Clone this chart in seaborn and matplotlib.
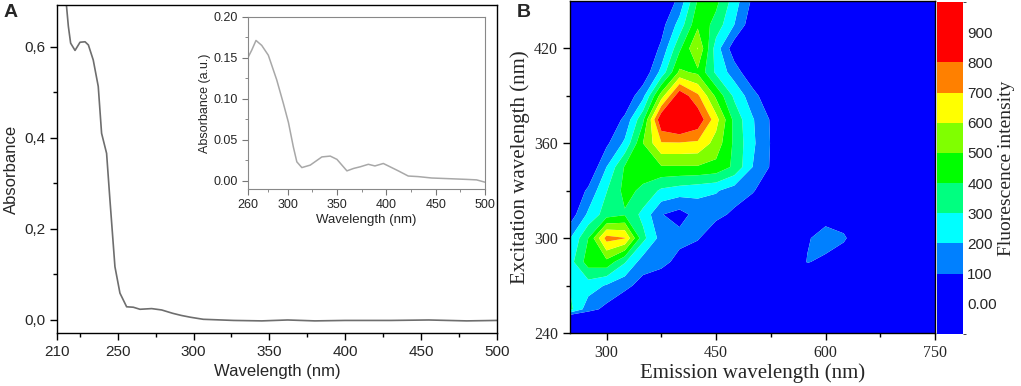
import matplotlib
matplotlib.use('Agg')
import matplotlib.pyplot as plt
from matplotlib.colors import ListedColormap, BoundaryNorm
from matplotlib.cm import ScalarMappable
import seaborn as sns

sns.set_style("ticks")
plt.rcParams['font.family'] = ['Liberation Sans', 'DejaVu Sans']

# --- panel A: UV-vis absorbance ---
uv_wavelength = [214, 216, 217.5, 219, 221.9, 225.2, 228.5, 230.7, 233.9, 237.2,
                 239.4, 242.7, 244.9, 248.2, 251.5, 255.9, 260.3, 264.7, 272.4, 279,
                 286.2, 291.9, 298, 306.4, 326.4, 345, 362, 380, 400, 430, 455, 480, 500]
uv_absorbance = [0.80, 0.70, 0.645, 0.608, 0.592, 0.610, 0.611, 0.604, 0.571, 0.513,
                 0.41, 0.366, 0.264, 0.117, 0.059, 0.029, 0.028, 0.0235, 0.025, 0.022,
                 0.0147, 0.010, 0.006, 0.0015, -0.001, -0.002, 0.0, -0.002, -0.001, -0.001,
                 0.0, -0.002, -0.001]

# inset, zoomed 260-500 nm
inset_wavelength = [260, 263.4, 267.8, 273.6, 280.3, 288.8, 295.6, 300.7, 305.7, 309.2,
                    314.3, 322.8, 334.6, 343.1, 349.9, 360, 366.9, 373.6, 381.7, 388.4,
                    396.9, 402, 412.1, 422.2, 432.3, 445.9, 462.8, 481.3, 491.5, 500]
inset_absorbance = [0.151, 0.159, 0.171, 0.165, 0.153, 0.123, 0.094, 0.071, 0.041, 0.023,
                    0.016, 0.019, 0.029, 0.030, 0.026, 0.012, 0.015, 0.017, 0.020, 0.018,
                    0.021, 0.018, 0.012, 0.0057, 0.005, 0.0033, 0.0025, 0.0016, 0.0010, -0.0018]

uv_yticks = [0.0, 0.2, 0.4, 0.6]
uv_yticklabels = ['0,0', '0,2', '0,4', '0,6']
uv_xticks = [210, 250, 300, 350, 400, 450, 500]

# --- panel B: excitation-emission matrix (estimated from the contour bands) ---
emission = [250, 275, 300, 325, 350, 375, 400, 425, 450, 475, 500,
            525, 550, 575, 600, 625, 650, 675, 700, 725, 750]
excitation = [240, 250, 255, 270, 285, 300, 315, 330, 345, 360, 375, 390, 405, 420, 435, 450]
intensity = [
    # 250 275 300 325 350 375 400 425 450 475 500 525 550 575 600 625 650 675 700 725 750
    [0,   0,   0,   0,   0,   0,   0,   0,   0,   0,   0,   0,  0,   0,   0,   0,  0, 0, 0, 0, 0],  # 240
    [0,   0,   0,   0,   0,   0,   0,   0,   0,   0,   0,   0,  0,   0,   0,   0,  0, 0, 0, 0, 0],  # 250
    [330, 140, 70,  0,   0,   0,   0,   0,   0,   0,   0,   0,  0,   0,   0,   0,  0, 0, 0, 0, 0],  # 255
    [290, 250, 190, 130, 60,  0,   0,   0,   0,   0,   0,   0,  0,   0,   0,   0,  0, 0, 0, 0, 0],  # 270
    [260, 450, 470, 310, 150, 140, 60,  10,  0,   0,   0,   0,  0,   105, 80,  30, 0, 0, 0, 0, 0],  # 285
    [195, 400, 740, 705, 330, 160, 135, 110, 20,  0,   0,   0,  0,   90,  140, 115, 20, 0, 0, 0, 0],  # 300
    [40,  220, 350, 390, 270, 105, 60,  140, 130, 80,  20,  0,  0,   0,   60,  40, 0, 0, 0, 0, 0],  # 315
    [0,   120, 295, 430, 380, 280, 250, 230, 210, 150, 110, 30, 0,   0,   0,   0,  0, 0, 0, 0, 0],  # 330
    [0,   0,   200, 410, 450, 490, 490, 490, 470, 380, 200, 90, 0,   0,   0,   0,  0, 0, 0, 0, 0],  # 345
    [0,   0,   80,  220, 500, 690, 690, 680, 560, 380, 220, 95, 0,   0,   0,   0,  0, 0, 0, 0, 0],  # 360
    [0,   0,   20,  120, 380, 900, 980, 880, 640, 370, 210, 90, 0,   0,   0,   0,  0, 0, 0, 0, 0],  # 375
    [0,   0,   0,   20,  170, 550, 880, 720, 480, 280, 140, 20, 0,   0,   0,   0,  0, 0, 0, 0, 0],  # 390
    [0,   0,   0,   0,   20,  230, 520, 480, 280, 150, 20,  0,  0,   0,   0,   0,  0, 0, 0, 0, 0],  # 405
    [0,   0,   0,   0,   0,   120, 380, 605, 250, 40,  0,   0,  0,   0,   0,   0,  0, 0, 0, 0, 0],  # 420
    [0,   0,   0,   0,   0,   60,  240, 480, 360, 200, 30,  0,  0,   0,   0,   0,  0, 0, 0, 0, 0],  # 435
    [0,   0,   0,   0,   0,   0,   130, 410, 430, 250, 80,  0,  0,   0,   0,   0,  0, 0, 0, 0, 0],  # 450
]

fl_levels = [-100, 100, 200, 300, 400, 500, 600, 700, 800, 1000]
fl_colors = ['#0000ff', '#0080ff', '#00ffff', '#00ff80', '#00ff00',
             '#80ff00', '#ffff00', '#ff8000', '#ff0000']
cbar_ticks = [0, 100, 200, 300, 400, 500, 600, 700, 800, 900]
cbar_labels = ['0.00', '100', '200', '300', '400', '500', '600', '700', '800', '900']

serif = ['Liberation Serif', 'DejaVu Serif']

fig = plt.figure(figsize=(10.21, 3.86), dpi=100)

# panel A
ax_a = fig.add_axes([0.0558, 0.1373, 0.431, 0.85])
sns.lineplot(x=uv_wavelength, y=uv_absorbance, ax=ax_a, color='#6e6e6e', lw=1.2, sort=False)
ax_a.set_xlim(210, 500)
ax_a.set_ylim(-0.0286, 0.692)
ax_a.set_xticks(uv_xticks)
ax_a.set_xticks([225, 275, 325, 375, 425, 475], minor=True)
ax_a.set_yticks(uv_yticks)
ax_a.set_yticklabels(uv_yticklabels)
ax_a.set_yticks([0.1, 0.3, 0.5], minor=True)
ax_a.tick_params(which='major', length=5, width=1, labelsize=11, color='black')
ax_a.tick_params(which='minor', length=3, width=1, color='black')
for sp in ax_a.spines.values():
    sp.set_color('black')
    sp.set_linewidth(1)
ax_a.set_xlabel('Wavelength (nm)', fontsize=12)
ax_a.set_ylabel('Absorbance', fontsize=12)

# inset
ax_in = fig.add_axes([0.2432, 0.5104, 0.2318, 0.4464])
sns.lineplot(x=inset_wavelength, y=inset_absorbance, ax=ax_in, color='#a8a8a8', lw=1.1, sort=False)
ax_in.set_xlim(260, 500)
ax_in.set_ylim(-0.0101, 0.20)
ax_in.set_xticks([260, 300, 350, 400, 450, 500])
ax_in.set_xticks([280, 325, 375, 425, 475], minor=True)
ax_in.set_yticks([0.0, 0.05, 0.10, 0.15, 0.20])
ax_in.set_yticklabels(['0.00', '0.05', '0.10', '0.15', '0.20'])
ax_in.set_yticks([0.025, 0.075, 0.125, 0.175], minor=True)
ax_in.tick_params(which='major', length=4, labelsize=9, color='#777777')
ax_in.tick_params(which='minor', length=2, color='#777777')
for sp in ax_in.spines.values():
    sp.set_color('#888888')
ax_in.set_xlabel('Wavelength (nm)', fontsize=9.5, labelpad=2)
ax_in.set_ylabel('Absorbance (a.u.)', fontsize=9, labelpad=2)

# panel B
ax_b = fig.add_axes([0.5583, 0.1373, 0.3575, 0.860])
ax_b.contourf(emission, excitation, intensity, levels=fl_levels, colors=fl_colors,
              antialiased=True)
ax_b.set_xlim(250, 750)
ax_b.set_ylim(240, 450)
ax_b.set_xticks([300, 450, 600, 750])
ax_b.set_xticks([375, 525, 675], minor=True)
ax_b.set_yticks([240, 300, 360, 420])
ax_b.set_yticks([270, 330, 390], minor=True)
ax_b.tick_params(which='major', length=5, width=1, color='black')
ax_b.tick_params(which='minor', length=3, width=1, color='black')
for lab in ax_b.get_xticklabels() + ax_b.get_yticklabels():
    lab.set_family(serif)
    lab.set_fontsize(11.5)
for sp in ax_b.spines.values():
    sp.set_color('black')
    sp.set_linewidth(1)
ax_b.set_xlabel('Emission wavelength (nm)', fontsize=15, family=serif, labelpad=2)
ax_b.set_ylabel('Excitation wavelength (nm)', fontsize=15, family=serif, labelpad=3)

# colour bar with the two wide end bands
cax = fig.add_axes([0.9177, 0.1347, 0.0255, 0.86])
cmap = ListedColormap(fl_colors)
norm = BoundaryNorm(fl_levels, cmap.N)
cb = fig.colorbar(ScalarMappable(norm=norm, cmap=cmap), cax=cax,
                  spacing='proportional', ticks=cbar_ticks)
cb.ax.set_yticklabels(cbar_labels)
cb.outline.set_visible(False)
cax.tick_params(length=0, labelsize=11, pad=3)
cb.set_label('Fluorescence intensity', fontsize=14, family=serif, labelpad=1)

fig.text(0.003, 0.955, 'A', fontsize=14, fontweight='bold')
fig.text(0.506, 0.955, 'B', fontsize=14, fontweight='bold')

fig.savefig('out.png', dpi=100)
